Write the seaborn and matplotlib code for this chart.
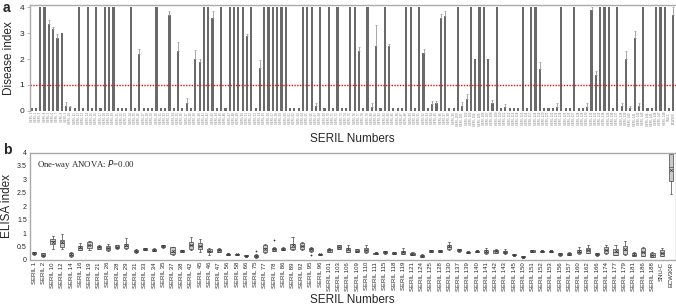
import pandas as pd
import numpy as np
import seaborn as sns
import matplotlib.pyplot as plt

# panel a: disease index of every line (mean + upper error)
lines_a = ["SERIL %d" % i for i in range(1, 149)] + ["SNU-C", "ECW30R"]
di_a = [0.1, 0.1, 4, 4, 3.35, 3.15, 2.8, 3.0, 0.2, 0.15,
        0.1, 4, 0.1, 4, 0.1, 4, 0.1, 4, 4, 4,
        0.1, 0.1, 0.1, 4, 0.1, 2.2, 0.1, 0.1, 0.1, 4,
        0.1, 0.1, 3.7, 0.1, 2.3, 0.1, 0.3, 0.1, 2.0, 1.9,
        4, 4, 3.6, 0.1, 4, 0.1, 4, 4, 4, 4,
        2.9, 4, 0.1, 1.65, 4, 4, 4, 4, 4, 4,
        0.1, 0.1, 0.1, 4, 4, 4, 0.2, 4, 0.1, 4,
        0.1, 4, 0.1, 0.1, 4, 4, 2.3, 0.1, 4, 0.15,
        2.5, 0.1, 4, 2.5, 0.1, 0.1, 0.1, 4, 4, 0.1,
        4, 2.25, 0.1, 0.27, 0.28, 3.6, 3.65, 0.1, 0.1, 4,
        0.2, 0.45, 4, 2.0, 4, 4, 2.0, 0.3, 4, 0.1,
        0.15, 0.1, 0.1, 0.1, 4, 0.1, 4, 4, 1.6, 0.1,
        0.1, 0.1, 0.15, 4, 0.1, 0.1, 4, 0.1, 0.1, 0.15,
        3.9, 1.4, 4, 4, 4, 0.1, 4, 0.2, 2.0, 0.1,
        2.8, 0.2, 4, 0.1, 0.1, 4, 4, 4,
        0.1, 3.7]
err_a = [0, 0, 0, 0, 0.15, 0.1, 0.15, 0, 0.15, 0.05,
         0, 0, 0, 0, 0, 0, 0, 0, 0, 0,
         0, 0, 0, 0, 0, 0.2, 0, 0, 0, 0,
         0, 0, 0.15, 0, 0.35, 0, 0.2, 0, 0.35, 0.1,
         0, 0, 0.25, 0, 0, 0, 0, 0, 0, 0,
         0.05, 0, 0, 0.3, 0, 0, 0, 0, 0, 0,
         0, 0, 0, 0, 0, 0, 0.1, 0, 0, 0,
         0, 0, 0, 0, 0, 0, 0.15, 0, 0, 0.15,
         0.8, 0, 0, 0.1, 0, 0, 0, 0, 0, 0,
         0, 0.15, 0, 0.1, 0.1, 0.15, 0.2, 0, 0, 0,
         0.15, 0.2, 0, 0, 0, 0, 0, 0.1, 0, 0,
         0.1, 0, 0, 0, 0, 0, 0, 0, 0.3, 0,
         0, 0, 0.15, 0, 0, 0, 0, 0, 0, 0.15,
         0.1, 0.15, 0, 0, 0, 0, 0, 0.1, 0.3, 0.1,
         0.3, 0.1, 0, 0, 0, 0, 0, 0,
         0, 0.3]

# panel b: ELISA index box summaries (whisker low, q1, median, q3, whisker high)
lines_b = ["SERIL 1", "SERIL 2", "SERIL 10", "SERIL 12", "SERIL 14", "SERIL 16", "SERIL 19",
           "SERIL 21", "SERIL 26", "SERIL 28", "SERIL 29", "SERIL 31", "SERIL 33", "SERIL 34",
           "SERIL 35", "SERIL 37", "SERIL 38", "SERIL 42", "SERIL 45", "SERIL 46", "SERIL 47",
           "SERIL 56", "SERIL 58", "SERIL 66", "SERIL 75", "SERIL 77", "SERIL 78", "SERIL 86",
           "SERIL 89", "SERIL 92", "SERIL 95", "SERIL 96", "SERIL 101", "SERIL 103", "SERIL 106",
           "SERIL 109", "SERIL 110", "SERIL 111", "SERIL 115", "SERIL 118", "SERIL 119",
           "SERIL 121", "SERIL 124", "SERIL 125", "SERIL 128", "SERIL 130", "SERIL 137",
           "SERIL 139", "SERIL 140", "SERIL 141", "SERIL 142", "SERIL 143", "SERIL 145",
           "SERIL 150", "SERIL 151", "SERIL 152", "SERIL 153", "SERIL 156", "SERIL 157",
           "SERIL 160", "SERIL 162", "SERIL 166", "SERIL 174", "SERIL 177", "SERIL 179",
           "SERIL 181", "SERIL 186", "SERIL 188", "SNU-C", "ECW30R"]
lo_b = [0.19, 0.12, 0.41, 0.41, 0.12, 0.37, 0.37, 0.40, 0.35, 0.42, 0.41, 0.27, 0.37, 0.34,
        0.45, 0.20, 0.29, 0.37, 0.31, 0.17, 0.29, 0.18, 0.18, 0.13, 0.09, 0.25, 0.33, 0.36,
        0.38, 0.38, 0.30, 0.18, 0.29, 0.41, 0.30, 0.29, 0.27, 0.22, 0.24, 0.21, 0.22, 0.18,
        0.11, 0.30, 0.29, 0.38, 0.31, 0.26, 0.30, 0.23, 0.25, 0.23, 0.16, 0.09, 0.30, 0.29,
        0.29, 0.16, 0.18, 0.22, 0.25, 0.16, 0.23, 0.18, 0.19, 0.14, 0.15, 0.10, 0.14, 2.45]
q1_b = [0.21, 0.15, 0.58, 0.50, 0.15, 0.39, 0.45, 0.42, 0.38, 0.44, 0.43, 0.28, 0.38, 0.35,
        0.47, 0.21, 0.30, 0.42, 0.42, 0.30, 0.31, 0.19, 0.19, 0.14, 0.10, 0.31, 0.35, 0.37,
        0.41, 0.40, 0.34, 0.19, 0.30, 0.42, 0.31, 0.30, 0.29, 0.23, 0.25, 0.22, 0.24, 0.20,
        0.12, 0.31, 0.30, 0.41, 0.32, 0.27, 0.31, 0.25, 0.27, 0.25, 0.17, 0.10, 0.31, 0.30,
        0.30, 0.17, 0.19, 0.25, 0.27, 0.17, 0.25, 0.20, 0.21, 0.16, 0.16, 0.12, 0.16, 2.95]
med_b = [0.25, 0.20, 0.70, 0.63, 0.20, 0.46, 0.56, 0.47, 0.46, 0.49, 0.53, 0.32, 0.42, 0.38,
         0.51, 0.30, 0.33, 0.55, 0.52, 0.35, 0.36, 0.22, 0.21, 0.16, 0.14, 0.43, 0.41, 0.42,
         0.50, 0.53, 0.40, 0.21, 0.36, 0.48, 0.37, 0.35, 0.36, 0.25, 0.28, 0.26, 0.29, 0.23,
         0.16, 0.34, 0.34, 0.50, 0.37, 0.29, 0.33, 0.31, 0.32, 0.30, 0.20, 0.12, 0.34, 0.33,
         0.33, 0.21, 0.23, 0.31, 0.36, 0.21, 0.36, 0.31, 0.36, 0.20, 0.30, 0.18, 0.26, 3.45]
q3_b = [0.29, 0.25, 0.80, 0.76, 0.27, 0.52, 0.67, 0.51, 0.52, 0.54, 0.59, 0.36, 0.45, 0.42,
        0.56, 0.47, 0.36, 0.67, 0.62, 0.40, 0.41, 0.24, 0.23, 0.18, 0.20, 0.54, 0.46, 0.46,
        0.59, 0.65, 0.46, 0.23, 0.41, 0.54, 0.44, 0.40, 0.44, 0.27, 0.32, 0.29, 0.35, 0.27,
        0.20, 0.37, 0.37, 0.57, 0.41, 0.31, 0.35, 0.37, 0.37, 0.35, 0.22, 0.15, 0.36, 0.35,
        0.35, 0.25, 0.27, 0.37, 0.46, 0.25, 0.47, 0.42, 0.52, 0.25, 0.46, 0.25, 0.37, 3.95]
hi_b = [0.31, 0.27, 0.90, 0.97, 0.29, 0.62, 0.72, 0.56, 0.59, 0.55, 0.81, 0.41, 0.46, 0.43,
        0.57, 0.50, 0.37, 0.86, 0.77, 0.44, 0.43, 0.25, 0.24, 0.19, 0.21, 0.59, 0.50, 0.47,
        0.86, 0.67, 0.47, 0.24, 0.43, 0.56, 0.57, 0.42, 0.56, 0.28, 0.33, 0.30, 0.44, 0.30,
        0.21, 0.38, 0.39, 0.66, 0.42, 0.32, 0.36, 0.46, 0.40, 0.40, 0.23, 0.16, 0.38, 0.36,
        0.36, 0.26, 0.28, 0.47, 0.55, 0.26, 0.55, 0.57, 0.69, 0.31, 0.47, 0.30, 0.44, 4.00]
out_lines = ["SERIL 75", "SERIL 78", "SERIL 95"]
out_vals = [0.34, 0.75, 0.19]

sns.set_style("white")
plt.rcParams['font.family'] = ['Liberation Sans', 'DejaVu Sans']

df_a = pd.DataFrame({'line': lines_a, 'di': di_a, 'err': err_a})
rows = []
for i, name in enumerate(lines_b):
    for v in (lo_b[i], q1_b[i], med_b[i], q3_b[i], hi_b[i]):
        rows.append((name, v))
df_b = pd.DataFrame(rows, columns=['line', 'elisa'])
df_out = pd.DataFrame({'line': out_lines, 'elisa': out_vals})

fig = plt.figure(figsize=(6.76, 3.07), dpi=100)
ax1 = fig.add_axes([29.5 / 676, 1 - 110.7 / 307, 646 / 676, 105.7 / 307])
ax2 = fig.add_axes([29.5 / 676, 1 - 260 / 307, 646 / 676, 107.5 / 307])

# --- a ---
sns.barplot(data=df_a, x='line', y='di', color='#6a6a6a', saturation=1, width=0.5,
            errorbar=None, linewidth=0, ax=ax1)
xs = np.arange(len(df_a))
m = df_a['err'] > 0
ax1.errorbar(xs[m], df_a['di'][m], yerr=[np.zeros(m.sum()), df_a['err'][m]],
             fmt='none', ecolor='#9a9a9a', elinewidth=0.6, capsize=0.8, capthick=0.5)
ax1.axhline(1, color='#e3100f', ls=(0, (1, 1)), lw=1)
ax1.set_ylim(0, 4.09)
ax1.set_xlim(-0.5, len(df_a) - 0.5)
ax1.set_yticks([0, 1, 2, 3, 4])
ax1.tick_params(axis='y', labelsize=6, length=2, width=0.5, pad=2, left=True, color='#999')
ax1.tick_params(axis='x', labelsize=2, length=0, pad=1, labelcolor='#777', rotation=90)
ax1.set_ylabel('Disease index', fontsize=8.5, labelpad=3)
ax1.set_xlabel('SERIL Numbers', fontsize=8.5, labelpad=5)
for s in ['top', 'left']:
    ax1.spines[s].set_color('#aaaaaa')
    ax1.spines[s].set_linewidth(1)
ax1.spines['right'].set_visible(False)
ax1.spines['bottom'].set_visible(False)

# --- b ---
sns.boxplot(data=df_b, x='line', y='elisa', order=lines_b, whis=(0, 100), width=0.45,
            color='#c9c9c9', saturation=1, linecolor='#444444', linewidth=0.5,
            showmeans=True, meanprops=dict(marker='x', markeredgecolor='#333333',
                                           markersize=1.8, markeredgewidth=0.5),
            ax=ax2)
sns.stripplot(data=df_out, x='line', y='elisa', order=lines_b, jitter=False, color='#333333',
              size=1.3, ax=ax2)
ax2.set_ylim(0, 4)
ax2.set_xlim(-0.5, len(lines_b) - 0.5)
ax2.set_yticks([0, 0.5, 1, 1.5, 2, 2.5, 3, 3.5, 4])
ax2.set_yticklabels(['0', '0.5', '1', '1.5', '2', '2.5', '3', '3.5', '4'])
ax2.tick_params(axis='y', labelsize=5, length=0, pad=2)
ax2.tick_params(axis='x', labelsize=4.3, length=0, pad=1.5, rotation=90)
ax2.set_ylabel('ELISA index', fontsize=8.5, labelpad=3)
ax2.set_xlabel('SERIL Numbers', fontsize=8.5, labelpad=2)
for s in ax2.spines.values():
    s.set_color('#aaaaaa')
    s.set_linewidth(1)
ax2.text(0.012, 0.89, 'One-way ANOVA: $\\mathit{P}$=0.00', transform=ax2.transAxes,
         fontsize=6.3, family='Liberation Serif', va='center')

fig.text(0.004, 0.996, 'a', fontsize=10, fontweight='bold', va='top')
fig.text(0.004, 1 - 143 / 307, 'b', fontsize=10, fontweight='bold', va='top')

fig.savefig('out.png', dpi=100)
